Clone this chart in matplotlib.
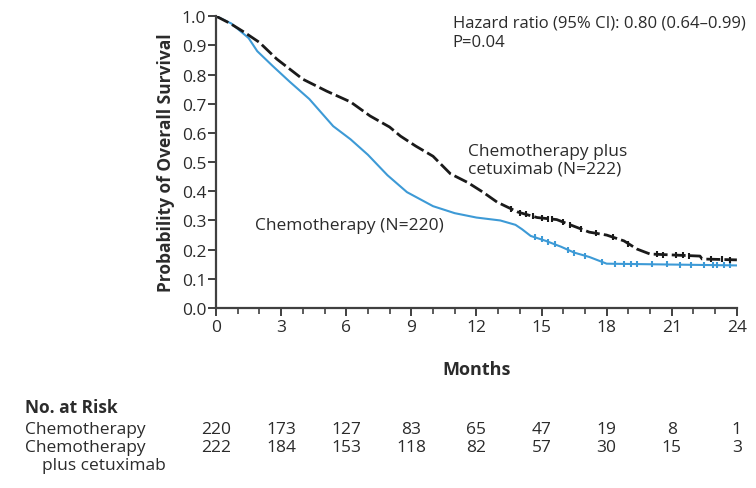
import numpy as np
import matplotlib.pyplot as plt
import matplotlib.transforms as mtransforms

plt.rcParams['font.family'] = ['Open Sans', 'DejaVu Sans']

# Kaplan-Meier estimates (months, probability of survival)
chemo_t = [0, 0.7, 1.5, 1.9, 2.6, 3.4, 4.3, 5.4, 6.2, 7.0, 7.9, 8.8, 10.0, 11.0,
           12.0, 13.1, 13.8, 14.1, 14.5, 15.2, 15.9, 16.5, 17.2, 18.0, 24.0]
chemo_s = [1.0, 0.975, 0.925, 0.88, 0.83, 0.775, 0.716, 0.623, 0.578, 0.525, 0.455,
           0.397, 0.349, 0.325, 0.31, 0.30, 0.285, 0.27, 0.247, 0.23, 0.21, 0.19,
           0.175, 0.152, 0.146]
cetux_t = [0, 0.65, 1.3, 2.0, 2.8, 4.0, 5.1, 6.2, 7.1, 8.0, 8.5, 9.2, 10.0, 10.8,
           11.6, 12.3, 12.95, 13.9, 14.8, 15.7, 16.5, 17.2, 18.0, 18.8, 19.4, 20.0,
           22.3, 22.4, 24.0]
cetux_s = [1.0, 0.975, 0.945, 0.91, 0.853, 0.784, 0.743, 0.706, 0.658, 0.62, 0.589,
           0.555, 0.52, 0.46, 0.43, 0.397, 0.363, 0.329, 0.31, 0.303, 0.28, 0.26,
           0.25, 0.23, 0.202, 0.185, 0.178, 0.168, 0.165]

# censored observations
chemo_cens = [14.7, 15.0, 15.3, 15.6, 16.2, 16.5, 17.0, 17.8, 18.4, 18.8, 19.1, 19.4,
              20.1, 20.8, 21.4, 21.9, 22.5, 22.9, 23.1, 23.4, 23.7]
cetux_cens = [13.6, 14.0, 14.3, 14.6, 15.0, 15.3, 15.5, 16.0, 16.3, 16.8, 17.5, 18.3,
              19.0, 20.3, 20.6, 21.2, 21.5, 21.8, 22.8, 23.3, 23.7]

# number at risk
risk_months = [0, 3, 6, 9, 12, 15, 18, 21, 24]
risk_chemo = [220, 173, 127, 83, 65, 47, 19, 8, 1]
risk_cetux = [222, 184, 153, 118, 82, 57, 30, 15, 3]

blue = '#3d9ad6'
txt = '#2b2b2b'

fig = plt.figure(figsize=(7.56, 4.89), dpi=100)
ax = fig.add_axes([0.2857, 0.368, 0.689, 0.597])

ax.plot(chemo_t, chemo_s, color=blue, lw=1.5)
ax.plot(cetux_t, cetux_s, color='#1a1a1a', lw=2.0, ls=(0, (5, 1.5)))
ax.plot(chemo_cens, np.interp(chemo_cens, chemo_t, chemo_s), ls='none',
        marker='|', ms=5, mew=1.5, color=blue, clip_on=False)
ax.plot(cetux_cens, np.interp(cetux_cens, cetux_t, cetux_s), ls='none',
        marker='|', ms=5, mew=1.5, color='#1a1a1a', clip_on=False)

ax.set_xlim(0, 24)
ax.set_ylim(0, 1.0)
ax.set_xticks(range(0, 25, 3))
ax.set_xticks(range(0, 25), minor=True)
ax.set_yticks(np.arange(0, 1.01, 0.1))
ax.set_yticklabels(['%.1f' % v for v in np.arange(0, 1.01, 0.1)])
for s in ['top', 'right']:
    ax.spines[s].set_visible(False)
for s in ['left', 'bottom']:
    ax.spines[s].set_color('#404040')
    ax.spines[s].set_linewidth(1.6)
ax.tick_params(axis='both', which='major', length=6, width=1.4, color='#404040',
               labelsize=12.5, labelcolor=txt)
ax.tick_params(axis='x', which='minor', length=4, width=1.2, color='#404040')
ax.tick_params(axis='y', pad=1)
ax.tick_params(axis='x', pad=2)

ax.set_ylabel('Probability of Overall Survival', fontsize=12.5, fontweight='bold',
              color=txt, labelpad=5)
ax.set_xlabel('Months', fontsize=13, fontweight='bold', color=txt, labelpad=18)

ax.text(10.9, 1.005, 'Hazard ratio (95% CI): 0.80 (0.64\u20130.99)\nP=0.04',
        fontsize=12, color=txt, va='top', linespacing=1.25)
ax.text(11.6, 0.565, 'Chemotherapy plus\ncetuximab (N=222)', fontsize=12.5,
        color=txt, va='top', linespacing=1.1)
ax.text(1.8, 0.285, 'Chemotherapy (N=220)', fontsize=12.5, color=txt, va='center')

# number-at-risk table under the axes
tr = mtransforms.blended_transform_factory(ax.transData, fig.transFigure)
fig.text(0.033, 1 - 408 / 489, 'No. at Risk', fontsize=12.5, fontweight='bold',
         color=txt, va='center')
fig.text(0.033, 1 - 430 / 489, 'Chemotherapy', fontsize=12.5, color=txt, va='center')
fig.text(0.033, 1 - 448 / 489, 'Chemotherapy', fontsize=12.5, color=txt, va='center')
fig.text(0.056, 1 - 466 / 489, 'plus cetuximab', fontsize=12.5, color=txt, va='center')
for m, a, b in zip(risk_months, risk_chemo, risk_cetux):
    ax.text(m, 1 - 430 / 489, str(a), transform=tr, ha='center', va='center',
            fontsize=12.5, color=txt, clip_on=False)
    ax.text(m, 1 - 448 / 489, str(b), transform=tr, ha='center', va='center',
            fontsize=12.5, color=txt, clip_on=False)

fig.savefig('out.png', dpi=100)
